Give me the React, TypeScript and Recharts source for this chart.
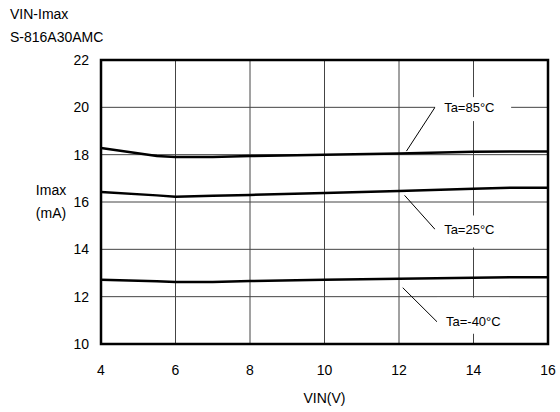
// VIN-Imax characteristic, S-816A30AMC
import { LineChart, Line, XAxis, YAxis, CartesianGrid, ReferenceLine, ReferenceDot, ReferenceArea } from "recharts";

const vin = [4, 5.5, 6, 7, 8, 10, 12, 14, 15, 16];
const imax85 = [18.28, 17.94, 17.9, 17.9, 17.94, 18.0, 18.05, 18.12, 18.13, 18.13];
const imax25 = [16.42, 16.28, 16.22, 16.26, 16.3, 16.38, 16.46, 16.56, 16.6, 16.6];
const imaxM40 = [12.72, 12.65, 12.62, 12.62, 12.66, 12.71, 12.76, 12.8, 12.82, 12.82];

const xTicks = [4, 6, 8, 10, 12, 14, 16];
const yTicks = [10, 12, 14, 16, 18, 20, 22];

// annotation: label text, leader start (on curve), leader end (at label)
const notes = [
  { text: "Ta=85°C", from: { x: 12.2, y: 18.15 }, to: { x: 12.97, y: 20.01 } },
  { text: "Ta=25°C", from: { x: 12.15, y: 16.28 }, to: { x: 12.97, y: 14.84 } },
  { text: "Ta=-40°C", from: { x: 12.1, y: 12.38 }, to: { x: 13.02, y: 10.94 } },
];

const data = vin.map((v, i) => ({ vin: v, t85: imax85[i], t25: imax25[i], tm40: imaxM40[i] }));

const FONT = "Arial, 'Liberation Sans', sans-serif";
const tick = { fontSize: 14, fill: "#000", fontFamily: FONT };

const boxes = [
  { top: -10, bottom: 14, w: 76 },
  { top: -14, bottom: 18, w: 70 },
  { top: -24, bottom: 12, w: 72 },
];

const NoteShape = (text: string, b: { top: number; bottom: number; w: number }) => (p: any) => (
  <g>
    <rect x={p.cx} y={p.cy + b.top} width={b.w} height={b.bottom - b.top} fill="#fff" />
    <text x={p.cx + 9} y={p.cy} dy="0.35em" fontSize={13} fontFamily={FONT} fill="#000">{text}</text>
  </g>
);

const txt = (top: number, left: number, s: string, w?: number) => (
  <div style={{ position: "absolute", top, left, width: w, textAlign: w ? "center" : "left", fontSize: 14, lineHeight: "14px", fontFamily: FONT, color: "#000", whiteSpace: "nowrap" }}>{s}</div>
);

export default function App() {
  return (
    <div style={{ position: "absolute", left: 0, top: 0, width: 560, height: 412, background: "#fff" }}>
      {txt(7, 10, "VIN-Imax")}
      {txt(30, 10, "S-816A30AMC")}
      {txt(183, 28, "Imax", 46)}
      {txt(206, 28, "(mA)", 46)}
      <LineChart width={560} height={412} data={data} margin={{ top: 60, right: 12, bottom: 0, left: 0 }}>
        <CartesianGrid stroke="#444" strokeWidth={1} />
        <XAxis dataKey="vin" type="number" domain={[4, 16]} ticks={xTicks} height={68} axisLine={false} tickLine={false}
          tickSize={6} tickMargin={15} tick={tick}
          label={{ value: "VIN(V)", position: "insideBottom", offset: 9, fontSize: 14, fill: "#000", fontFamily: FONT }} />
        <YAxis type="number" domain={[10, 22]} ticks={yTicks} width={101} axisLine={false} tickLine={false}
          tickSize={6} tickMargin={6} tick={tick} />
        {notes.map((n, i) => (
          <ReferenceDot key={"d" + i} x={n.to.x} y={n.to.y} r={0} shape={NoteShape(n.text, boxes[i])} />
        ))}
        {notes.map((n, i) => (
          <ReferenceLine key={"l" + i} segment={[n.from, n.to]} stroke="#000" strokeWidth={1} />
        ))}
        <Line type="linear" dataKey="t85" stroke="#000" strokeWidth={2.5} dot={false} isAnimationActive={false} />
        <Line type="linear" dataKey="t25" stroke="#000" strokeWidth={2.5} dot={false} isAnimationActive={false} />
        <Line type="linear" dataKey="tm40" stroke="#000" strokeWidth={2.5} dot={false} isAnimationActive={false} />
        <ReferenceArea x1={4} x2={16} y1={10} y2={22} fill="none" stroke="#000" strokeWidth={2.5} />
      </LineChart>
    </div>
  );
}
